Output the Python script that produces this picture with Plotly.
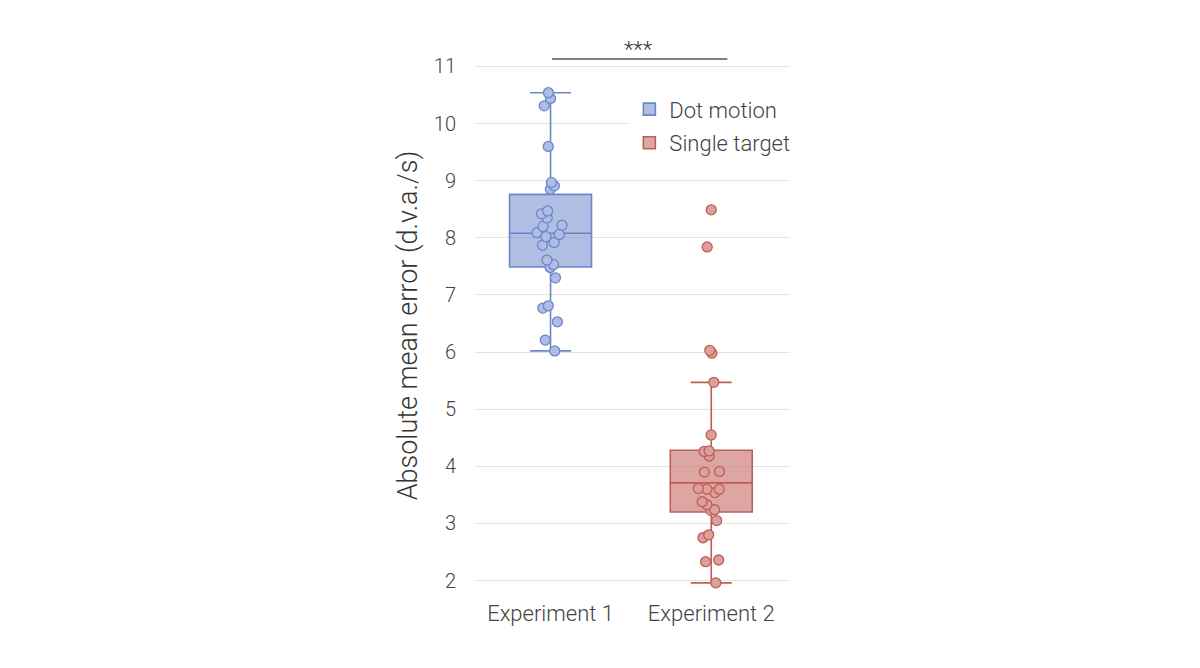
import plotly.graph_objects as go

categories = ["Experiment 1", "Experiment 2"]
series_names = ["Dot motion", "Single target"]

# individual subject values
exp1_values = [10.54, 10.44, 10.31, 9.60, 8.97, 8.91, 8.85, 8.47, 8.42, 8.35,
               8.22, 8.20, 8.09, 8.06, 8.02, 7.92, 7.87, 7.61, 7.53, 7.48,
               7.30, 6.81, 6.77, 6.53, 6.21, 6.02]
exp2_values = [8.49, 7.84, 6.03, 5.98, 5.47, 4.55, 4.27, 4.26, 4.18, 3.91,
               3.90, 3.61, 3.60, 3.60, 3.54, 3.38, 3.33, 3.24, 3.23, 3.05,
               2.80, 2.75, 2.36, 2.33, 1.96]

# box statistics as drawn in the picture
exp1_stats = dict(q1=7.49, median=8.08, q3=8.76, lower=6.02, upper=10.54)
exp2_stats = dict(q1=3.20, median=3.71, q3=4.28, lower=1.96, upper=5.47)

sig_label = "***"

colors = [
    dict(fill="rgba(150,168,218,0.75)", line="#6d86c8", dot="#aebde4"),
    dict(fill="rgba(208,128,122,0.7)", line="#bd5e58", dot="#dc9f9a"),
]

FONT = "Roboto, Liberation Sans, Arial, sans-serif"

fig = go.Figure()

for i, (cat, name, vals, st) in enumerate(zip(categories, series_names,
                                                [exp1_values, exp2_values],
                                                [exp1_stats, exp2_stats])):
    c = colors[i]
    # the box itself
    fig.add_trace(go.Box(
        x=[cat], q1=[st["q1"]], median=[st["median"]], q3=[st["q3"]],
        lowerfence=[st["lower"]], upperfence=[st["upper"]],
        name=name, legendgroup=name, fillcolor=c["fill"],
        line=dict(color=c["line"], width=1.6),
        width=0.51, whiskerwidth=0.5, boxpoints=False, showlegend=True,
    ))
    # the jittered points on top
    fig.add_trace(go.Box(
        x=[cat] * len(vals), y=vals, name=name, legendgroup=name, showlegend=False,
        boxpoints="all", jitter=0.34, pointpos=0, width=0.51,
        fillcolor="rgba(0,0,0,0)", line=dict(color="rgba(0,0,0,0)", width=0),
        marker=dict(size=10, color=c["dot"], line=dict(color=c["line"], width=1.3)),
        hoveron="points",
    ))

# significance bar
fig.add_shape(type="line", xref="x", yref="paper", x0=0.01, x1=1.1,
              y0=1.0, y1=1.0, line=dict(color="#555555", width=1.4))
fig.add_annotation(x=0.55, xref="x", y=1.0, yref="paper", yanchor="bottom",
                   text=sig_label, showarrow=False, yshift=-5,
                   font=dict(size=22, color="#333333"))

fig.update_layout(
    width=1200, height=668,
    paper_bgcolor="white", plot_bgcolor="white",
    margin=dict(l=467, r=418, t=51, b=84, autoexpand=False),
    boxmode="overlay",
    font=dict(family=FONT, color="#444444", weight=300),
    legend=dict(x=0.49, y=0.945, xanchor="left", yanchor="top",
                bgcolor="white", font=dict(size=22, color="#444444", weight=300),
                traceorder="grouped", tracegroupgap=2, itemwidth=30),
    showlegend=True,
)
fig.update_xaxes(range=[-0.47, 1.49], showgrid=False, showline=False,
                 ticks="", automargin=False, ticklabelstandoff=6,
                 tickfont=dict(size=22, color="#444444", weight=300))
fig.update_yaxes(range=[1.8, 11.13], tickvals=list(range(2, 12)),
                 showgrid=True, gridcolor="#e4e4e4", gridwidth=1.2,
                 zeroline=False, showline=False, ticks="", automargin=False,
                 ticklabelstandoff=18,
                 tickfont=dict(size=20, color="#444444", weight=300),
                 title=dict(text="Absolute mean error (d.v.a./s)",
                            font=dict(size=27, color="#333333", weight=300),
                            standoff=8))

fig.write_html("out.html")
